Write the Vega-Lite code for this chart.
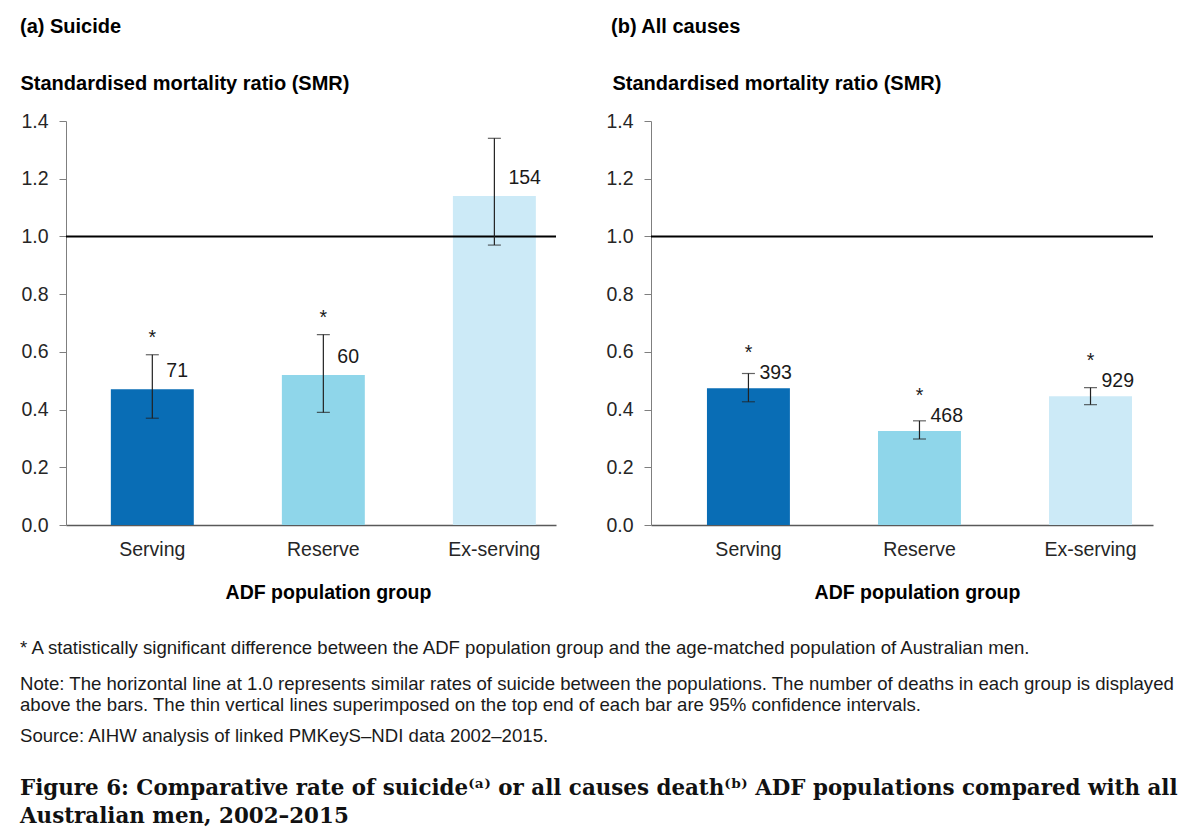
{
  "$schema": "https://vega.github.io/schema/vega-lite/v6.json",
  "padding": {"left": 20, "top": 17, "right": 10, "bottom": 10},
  "background": "white",
  "datasets": {
    "suicide": [
      {"group": "Serving", "smr": 0.47, "ci_lo": 0.37, "ci_hi": 0.59, "deaths": 71, "sig": "*"},
      {"group": "Reserve", "smr": 0.52, "ci_lo": 0.39, "ci_hi": 0.66, "deaths": 60, "sig": "*"},
      {"group": "Ex-serving", "smr": 1.14, "ci_lo": 0.97, "ci_hi": 1.34, "deaths": 154, "sig": ""}
    ],
    "allcauses": [
      {"group": "Serving", "smr": 0.474, "ci_lo": 0.427, "ci_hi": 0.525, "deaths": 393, "sig": "*"},
      {"group": "Reserve", "smr": 0.326, "ci_lo": 0.298, "ci_hi": 0.361, "deaths": 468, "sig": "*"},
      {"group": "Ex-serving", "smr": 0.446, "ci_lo": 0.417, "ci_hi": 0.476, "deaths": 929, "sig": "*"}
    ],
    "ref": [{"smr": 1.0}]
  },
  "title": {
    "text": "Source: AIHW analysis of linked PMKeyS–NDI data 2002–2015.",
    "subtitle": [
      "Figure 6: Comparative rate of suicide⁽ᵃ⁾ or all causes death⁽ᵇ⁾ ADF populations compared with all",
      "Australian men, 2002–2015"
    ],
    "orient": "bottom",
    "anchor": "start",
    "frame": "bounds",
    "offset": 9,
    "font": "Liberation Sans",
    "fontSize": 18.6,
    "fontWeight": "normal",
    "color": "#1a1a1a",
    "subtitleFont": "DejaVu Serif",
    "subtitleFontSize": 21.4,
    "subtitleFontWeight": "bold",
    "subtitleColor": "#111111",
    "subtitleLineHeight": 28,
    "subtitlePadding": 32
  },
  "vconcat": [
    {
      "hconcat": [
        {
          "width": 490,
          "height": 404,
          "title": {"text": "(a) Suicide", "anchor": "start", "frame": "group", "dx": -46, "fontSize": 20, "fontWeight": "bold", "color": "#000000", "offset": 36},
          "layer": [
            {
              "data": {"name": "suicide"},
              "mark": {"type": "bar"},
              "encoding": {
                "x": {"field": "group", "type": "nominal", "sort": ["Serving", "Reserve", "Ex-serving"],
                  "scale": {"domain": ["Serving", "Reserve", "Ex-serving"], "paddingInner": 0.515, "paddingOuter": 0.19, "align": 0.69},
                  "axis": {"labelAngle": 0, "labelFontSize": 19.5, "labelColor": "#262626", "ticks": false, "domainColor": "#595959", "domainWidth": 1.5, "labelPadding": 15,
                    "title": "ADF population group", "titleFontSize": 19.5, "titleFontWeight": "bold", "titleColor": "#000000", "titlePadding": 25, "titleX": 262}},
                "y": {"field": "smr", "type": "quantitative",
                  "scale": {"domain": [0, 1.4], "nice": false, "zero": true},
                  "axis": {"values": [0, 0.2, 0.4, 0.6, 0.8, 1.0, 1.2, 1.4], "format": ".1f", "grid": false, "labelFontSize": 19.5, "labelColor": "#262626", "tickSize": 7, "tickColor": "#7f7f7f", "domainColor": "#7f7f7f", "labelPadding": 11,
                    "title": "Standardised mortality ratio (SMR)", "titleAngle": 0, "titleAlign": "left", "titleBaseline": "alphabetic", "titleX": -46, "titleY": -32, "titleFontSize": 20, "titleFontWeight": "bold", "titleColor": "#000000"}},
                "color": {"field": "group", "type": "nominal", "scale": {"domain": ["Serving", "Reserve", "Ex-serving"], "range": ["#096db5", "#8fd6ea", "#cceaf7"]}, "legend": null}
              }
            },
            {
              "data": {"name": "ref"},
              "mark": {"type": "rule", "color": "#000000", "strokeWidth": 2},
              "encoding": {"y": {"field": "smr", "type": "quantitative"}}
            },
            {
              "data": {"name": "suicide"},
              "mark": {"type": "rule", "color": "#222222", "strokeWidth": 1.2},
              "encoding": {
                "x": {"field": "group", "type": "nominal", "sort": ["Serving", "Reserve", "Ex-serving"]},
                "y": {"field": "ci_lo", "type": "quantitative"},
                "y2": {"field": "ci_hi"}
              }
            },
            {
              "data": {"name": "suicide"},
              "mark": {"type": "tick", "color": "#222222", "size": 13, "thickness": 1.2},
              "encoding": {
                "x": {"field": "group", "type": "nominal", "sort": ["Serving", "Reserve", "Ex-serving"]},
                "y": {"field": "ci_lo", "type": "quantitative"}
              }
            },
            {
              "data": {"name": "suicide"},
              "mark": {"type": "tick", "color": "#222222", "size": 13, "thickness": 1.2},
              "encoding": {
                "x": {"field": "group", "type": "nominal", "sort": ["Serving", "Reserve", "Ex-serving"]},
                "y": {"field": "ci_hi", "type": "quantitative"}
              }
            },
            {
              "data": {"name": "suicide"},
              "mark": {"type": "text", "align": "left", "baseline": "middle", "dx": 14, "dy": -18, "fontSize": 19.5, "color": "#1a1a1a"},
              "encoding": {
                "x": {"field": "group", "type": "nominal", "sort": ["Serving", "Reserve", "Ex-serving"]},
                "y": {"field": "smr", "type": "quantitative"},
                "text": {"field": "deaths", "type": "quantitative"}
              }
            },
            {
              "data": {"name": "suicide"},
              "mark": {"type": "text", "align": "center", "baseline": "alphabetic", "dy": -11, "fontSize": 19.5, "color": "#1a1a1a"},
              "encoding": {
                "x": {"field": "group", "type": "nominal", "sort": ["Serving", "Reserve", "Ex-serving"]},
                "y": {"field": "ci_hi", "type": "quantitative"},
                "text": {"field": "sig", "type": "nominal"}
              }
            }
          ]
        },
        {
          "width": 502,
          "height": 404,
          "title": {"text": "(b) All causes", "anchor": "start", "frame": "group", "dx": -40, "fontSize": 20, "fontWeight": "bold", "color": "#000000", "offset": 36},
          "layer": [
            {
              "data": {"name": "allcauses"},
              "mark": {"type": "bar"},
              "encoding": {
                "x": {"field": "group", "type": "nominal", "sort": ["Serving", "Reserve", "Ex-serving"],
                  "scale": {"domain": ["Serving", "Reserve", "Ex-serving"], "paddingInner": 0.515, "paddingOuter": 0.225, "align": 0.727},
                  "axis": {"labelAngle": 0, "labelFontSize": 19.5, "labelColor": "#262626", "ticks": false, "domainColor": "#595959", "domainWidth": 1.5, "labelPadding": 15,
                    "title": "ADF population group", "titleFontSize": 19.5, "titleFontWeight": "bold", "titleColor": "#000000", "titlePadding": 25, "titleX": 266}},
                "y": {"field": "smr", "type": "quantitative",
                  "scale": {"domain": [0, 1.4], "nice": false, "zero": true},
                  "axis": {"values": [0, 0.2, 0.4, 0.6, 0.8, 1.0, 1.2, 1.4], "format": ".1f", "grid": false, "labelFontSize": 19.5, "labelColor": "#262626", "tickSize": 7, "tickColor": "#7f7f7f", "domainColor": "#7f7f7f", "labelPadding": 11,
                    "title": "Standardised mortality ratio (SMR)", "titleAngle": 0, "titleAlign": "left", "titleBaseline": "alphabetic", "titleX": -39, "titleY": -32, "titleFontSize": 20, "titleFontWeight": "bold", "titleColor": "#000000"}},
                "color": {"field": "group", "type": "nominal", "scale": {"domain": ["Serving", "Reserve", "Ex-serving"], "range": ["#096db5", "#8fd6ea", "#cceaf7"]}, "legend": null}
              }
            },
            {
              "data": {"name": "ref"},
              "mark": {"type": "rule", "color": "#000000", "strokeWidth": 2},
              "encoding": {"y": {"field": "smr", "type": "quantitative"}}
            },
            {
              "data": {"name": "allcauses"},
              "mark": {"type": "rule", "color": "#222222", "strokeWidth": 1.2},
              "encoding": {
                "x": {"field": "group", "type": "nominal", "sort": ["Serving", "Reserve", "Ex-serving"]},
                "y": {"field": "ci_lo", "type": "quantitative"},
                "y2": {"field": "ci_hi"}
              }
            },
            {
              "data": {"name": "allcauses"},
              "mark": {"type": "tick", "color": "#222222", "size": 13, "thickness": 1.2},
              "encoding": {
                "x": {"field": "group", "type": "nominal", "sort": ["Serving", "Reserve", "Ex-serving"]},
                "y": {"field": "ci_lo", "type": "quantitative"}
              }
            },
            {
              "data": {"name": "allcauses"},
              "mark": {"type": "tick", "color": "#222222", "size": 13, "thickness": 1.2},
              "encoding": {
                "x": {"field": "group", "type": "nominal", "sort": ["Serving", "Reserve", "Ex-serving"]},
                "y": {"field": "ci_hi", "type": "quantitative"}
              }
            },
            {
              "data": {"name": "allcauses"},
              "mark": {"type": "text", "align": "left", "baseline": "middle", "dx": 11, "dy": -15, "fontSize": 19.5, "color": "#1a1a1a"},
              "encoding": {
                "x": {"field": "group", "type": "nominal", "sort": ["Serving", "Reserve", "Ex-serving"]},
                "y": {"field": "smr", "type": "quantitative"},
                "text": {"field": "deaths", "type": "quantitative"}
              }
            },
            {
              "data": {"name": "allcauses"},
              "mark": {"type": "text", "align": "center", "baseline": "alphabetic", "dy": -29, "fontSize": 19.5, "color": "#1a1a1a"},
              "encoding": {
                "x": {"field": "group", "type": "nominal", "sort": ["Serving", "Reserve", "Ex-serving"]},
                "y": {"field": "smr", "type": "quantitative"},
                "text": {"field": "sig", "type": "nominal"}
              }
            }
          ]
        }
      ],
      "spacing": 48
    },
    {
      "width": 1000,
      "height": 1,
      "data": {"values": []},
      "mark": {"type": "text"},
      "encoding": {},
      "title": {
        "text": "* A statistically significant difference between the ADF population group and the age-matched population of Australian men.",
        "subtitle": [
          "Note: The horizontal line at 1.0 represents similar rates of suicide between the populations. The number of deaths in each group is displayed",
          "above the bars. The thin vertical lines superimposed on the top end of each bar are 95% confidence intervals."
        ],
        "anchor": "start",
        "frame": "group",
        "dx": -46,
        "offset": 2,
        "font": "Liberation Sans",
        "fontSize": 18.6,
        "fontWeight": "normal",
        "color": "#1a1a1a",
        "subtitleFont": "Liberation Sans",
        "subtitleFontSize": 18.6,
        "subtitleColor": "#1a1a1a",
        "subtitleLineHeight": 21,
        "subtitlePadding": 18
      }
    }
  ],
  "spacing": 36,
  "config": {
    "font": "Liberation Sans",
    "view": {"stroke": null}
  }
}
